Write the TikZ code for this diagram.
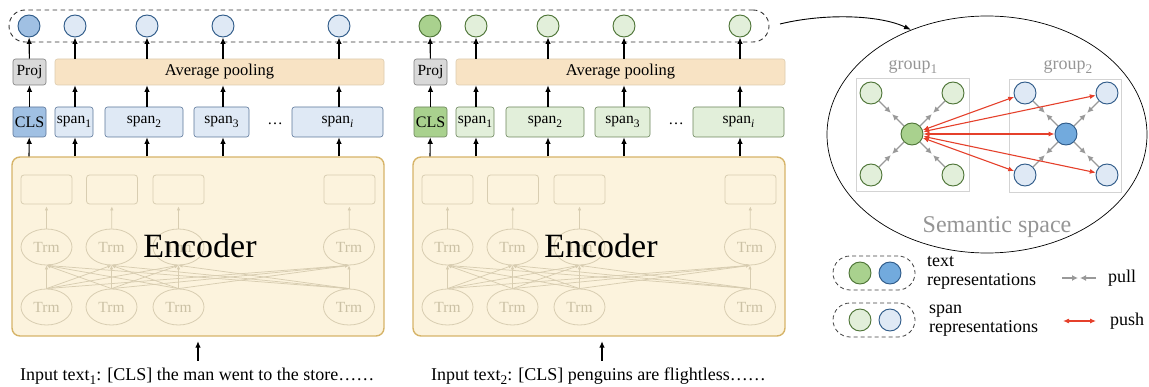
\documentclass[tikz,border=0pt]{standalone}
\usepackage{fontspec}
\setmainfont{Liberation Serif}
\usetikzlibrary{arrows.meta,shapes.geometric,calc}

\definecolor{bdark}{HTML}{A0C0E3}
\definecolor{blight}{HTML}{DFE9F5}
\definecolor{bline}{HTML}{2E5A88}
\definecolor{bbox}{HTML}{5C7699}
\definecolor{gdark}{HTML}{A9D18E}
\definecolor{glight}{HTML}{E2EFDA}
\definecolor{gline}{HTML}{4D7436}
\definecolor{gbox}{HTML}{6B845A}
\definecolor{semblue}{HTML}{72AADD}
\definecolor{encfill}{HTML}{FCF3DD}
\definecolor{encline}{HTML}{D6B469}
\definecolor{faded}{HTML}{D8CDB1}
\definecolor{fadedtext}{HTML}{CBC1A5}
\definecolor{poolfill}{HTML}{F8E3C4}
\definecolor{poolline}{HTML}{DCCBAE}
\definecolor{projfill}{HTML}{D9D9D9}
\definecolor{projline}{HTML}{7F7F7F}
\definecolor{pushred}{HTML}{E5402B}
\definecolor{pullgray}{HTML}{999999}
\definecolor{grouptext}{HTML}{959595}
\definecolor{groupline}{HTML}{D3D3D3}

\newcommand\myfs[1]{\fontsize{#1}{#1}\selectfont}
\newcommand\lsub[1]{\raisebox{-0.45ex}{\scalebox{0.74}{#1}}}

\tikzset{
  arr/.style={-{Latex[length=6.5pt,width=5.5pt]}, line width=1.1pt, draw=black},
  repc/.style={circle, draw, line width=0.95pt, minimum size=22pt, inner sep=0pt},
  tbox/.style={draw, rounded corners=2.5pt, line width=0.6pt, inner sep=0pt},
  fbox/.style={draw=faded, rounded corners=3pt, line width=0.8pt, inner sep=0pt, minimum width=51pt, minimum height=29pt},
  trm/.style={ellipse, draw=faded, line width=0.8pt, minimum width=51pt, minimum height=36pt, inner sep=0pt, text=fadedtext, font=\myfs{15.5}},
  farr/.style={draw=faded, -{Latex[length=4pt,width=3.5pt]}, line width=0.75pt},
  pull/.style={draw=pullgray, -{Latex[length=6pt,width=6pt]}, line width=1.3pt},
  push/.style={draw=pushred, {Latex[length=6pt,width=5pt]}-{Latex[length=6pt,width=5pt]}, line width=1.1pt},
  legbox/.style={draw=black!75, dash pattern=on 4pt off 3pt, rounded corners=17pt, line width=0.8pt, minimum width=82pt, minimum height=34pt, inner sep=0pt},
  legtext/.style={anchor=west, align=left, inner sep=0pt, font=\fontsize{18}{19}\selectfont},
}

% #1 prefix, #2 xshift, #3 dark fill, #4 light fill, #5 circle line, #6 box line
\newcommand\mypanel[6]{%
\begin{scope}[xshift=#2pt]
  \node[draw=encline, fill=encfill, line width=1.4pt, rounded corners=8pt,
        minimum width=372pt, minimum height=179pt, inner sep=0pt] (#1enc) at (198,246.5) {};
  \node[fbox] (#1ib1) at (46.5,189.5) {};
  \node[fbox] (#1ib2) at (112,189.5) {};
  \node[fbox] (#1ib3) at (178.5,189.5) {};
  \node[fbox] (#1ib4) at (349.5,189.5) {};
  \node[trm] (#1tt1) at (46.5,247) {Trm};
  \node[trm] (#1tt2) at (111.5,247) {Trm};
  \node[trm] (#1tt3) at (178.5,247) {Trm};
  \node[trm] (#1tt4) at (349,247) {Trm};
  \node[trm] (#1bt1) at (46.5,307) {Trm};
  \node[trm] (#1bt2) at (111.5,307) {Trm};
  \node[trm] (#1bt3) at (178.5,307) {Trm};
  \node[trm] (#1bt4) at (349,307) {Trm};
  \foreach \i in {1,...,4}{\draw[farr, shorten >=2pt] (#1tt\i) -- (#1ib\i);}
  \foreach \i in {1,...,4}{\foreach \j in {1,...,4}{\draw[farr] (#1bt\i.north) -- (#1tt\j.south);}}
  \node[font=\myfs{34}, inner sep=0pt] (#1enclab) at (200,246) {Encoder};
  % top representations
  \node[repc, fill=#3, draw=#5] (#1c0) at (29,26) {};
  \node[repc, fill=#4, draw=#5] (#1c1) at (75,26) {};
  \node[repc, fill=#4, draw=#5] (#1c2) at (147,26) {};
  \node[repc, fill=#4, draw=#5] (#1c3) at (223,26) {};
  \node[repc, fill=#4, draw=#5] (#1c4) at (339,26) {};
  % proj and pooling
  \node[tbox, fill=projfill, draw=projline, minimum width=33pt, minimum height=26pt, font=\myfs{15.5}] (#1proj) at (29.5,72) {Proj};
  \node[tbox, fill=poolfill, draw=poolline, minimum width=329pt, minimum height=26pt, font=\myfs{16.5}] (#1pool) at (219.5,72) {Average pooling};
  % token boxes
  \node[tbox, fill=#3, draw=#6, minimum width=33pt, minimum height=30pt, font=\myfs{16}] (#1cls) at (29.5,122) {CLS};
  \node[tbox, fill=#4, draw=#6, minimum width=38pt, minimum height=30pt, font=\myfs{15.5}] (#1s1) at (74,122) {span\lsub{1}};
  \node[tbox, fill=#4, draw=#6, minimum width=78pt, minimum height=30pt, font=\myfs{15.5}] (#1s2) at (144,122) {span\lsub{2}};
  \node[tbox, fill=#4, draw=#6, minimum width=55pt, minimum height=30pt, font=\myfs{15.5}] (#1s3) at (221.5,122) {span\lsub{3}};
  \node[tbox, fill=#4, draw=#6, minimum width=91pt, minimum height=30pt, font=\myfs{15.5}] (#1s4) at (337.5,122) {span\lsub{\itshape i}};
  \node[font=\myfs{15.5}, inner sep=0pt] (#1dots) at (275,124) {…};
  % arrows
  \draw[arr] (#1c0 |- #1enc.north) -- (#1cls);
  \draw[arr] (#1cls) -- (#1proj);
  \draw[arr] (#1proj) -- (#1c0);
  \foreach \k in {1,...,4}{%
    \draw[arr] (#1c\k |- #1enc.north) -- (#1c\k |- #1s\k.south);
    \draw[arr] (#1c\k |- #1s\k.north) -- (#1c\k |- #1pool.south);
    \draw[arr] (#1c\k |- #1pool.north) -- (#1c\k);
  }
\end{scope}}

\begin{document}
\begin{tikzpicture}[x=1pt,y=-1pt]
\useasboundingbox (0,0) rectangle (1149,387);

\node[draw=black!80, dash pattern=on 4.5pt off 3.5pt, rounded corners=16pt, line width=0.9pt,
      minimum width=760pt, minimum height=32pt, inner sep=0pt] (reps) at (389,26) {};

\mypanel{a}{0}{bdark}{blight}{bline}{bbox}
\mypanel{b}{401}{gdark}{glight}{gline}{gbox}

% input texts
\node[anchor=base west, inner sep=0pt, font=\myfs{18}] (in1) at (20,381) {Input text\lsub{1}: [CLS] the man went to the store……};
\node[anchor=base west, inner sep=0pt, font=\myfs{18}] (in2) at (431,381) {Input text\lsub{2}: [CLS] penguins are flightless……};
\coordinate (ia1) at (198,361);
\coordinate (ia2) at (602,361);
\draw[arr, shorten >=4.5pt] (ia1) -- (ia1 |- aenc.south);
\draw[arr, shorten >=4.5pt] (ia2) -- (ia2 |- benc.south);

% semantic space
\node[ellipse, draw, line width=0.7pt, minimum width=320pt, minimum height=237pt, inner sep=0pt] (sem) at (987,134.5) {};
\coordinate (arrS) at (780,24);
\draw[-{Latex[length=7pt,width=5pt]}, line width=0.9pt] (arrS) .. controls (825,13) and (880,15) .. (sem.126);
\node[text=grouptext, font=\myfs{24}, inner sep=0pt] (semlab) at (997,227) {Semantic space};

\node[draw=groupline, line width=0.9pt, minimum width=113pt, minimum height=113pt, inner sep=0pt] (grp1) at (912.5,134.5) {};
\node[draw=groupline, line width=0.9pt, minimum width=112pt, minimum height=113pt, inner sep=0pt] (grp2) at (1065,135.5) {};
\node[text=grouptext, font=\myfs{18}, inner sep=0pt] (grp1lab) at (913,67) {group\lsub{1}};
\node[text=grouptext, font=\myfs{18}, inner sep=0pt] (grp2lab) at (1068,67) {group\lsub{2}};

\node[repc, fill=gdark, draw=gline] (g1c) at (912,134) {};
\node[repc, fill=glight, draw=gline] (g1a) at (871,93) {};
\node[repc, fill=glight, draw=gline] (g1b) at (953,93) {};
\node[repc, fill=glight, draw=gline] (g1d) at (871,175) {};
\node[repc, fill=glight, draw=gline] (g1e) at (953,175) {};
\node[repc, fill=semblue, draw=bline] (g2c) at (1066,134) {};
\node[repc, fill=blight, draw=bline] (g2a) at (1025,93) {};
\node[repc, fill=blight, draw=bline] (g2b) at (1107,93) {};
\node[repc, fill=blight, draw=bline] (g2d) at (1025,175) {};
\node[repc, fill=blight, draw=bline] (g2e) at (1107,175) {};

\foreach \g in {g1,g2}{\foreach \p in {a,b,d,e}{%
  \draw[pull, shorten >=1pt] (\g\p) -- ($(\g\p)!0.5!(\g c)$);
  \draw[pull, shorten >=1pt] (\g c) -- ($(\g c)!0.5!(\g\p)$);
}}
\foreach \p in {a,b,c,d,e}{\draw[push] (g1c) -- (g2\p);}

% legend
\node[legbox] (leg1) at (874,273) {};
\node[repc, fill=gdark, draw=gline] (l1g) at (860,273) {};
\node[repc, fill=semblue, draw=bline] (l1b) at (890,273) {};
\node[legbox] (leg2) at (874,320) {};
\node[repc, fill=glight, draw=gline] (l2g) at (860,320) {};
\node[repc, fill=blight, draw=bline] (l2b) at (890,320) {};
\node[legtext] (lt1) at (927,273) {text\\representations};
\node[legtext] (lt2) at (929,321) {span\\representations};

\coordinate (pl1) at (1062,278);
\coordinate (pl2) at (1096,278);
\draw[pull, shorten >=1pt] (pl1) -- ($(pl1)!0.5!(pl2)$);
\draw[pull, shorten >=1pt] (pl2) -- ($(pl2)!0.5!(pl1)$);
\node[anchor=west, inner sep=0pt, font=\myfs{18}] (pulllab) at (1108,278) {pull};
\coordinate (ps1) at (1063,321);
\coordinate (ps2) at (1096,321);
\draw[push] (ps1) -- (ps2);
\node[anchor=west, inner sep=0pt, font=\myfs{18}] (pushlab) at (1110,321) {push};
\end{tikzpicture}
\end{document}
